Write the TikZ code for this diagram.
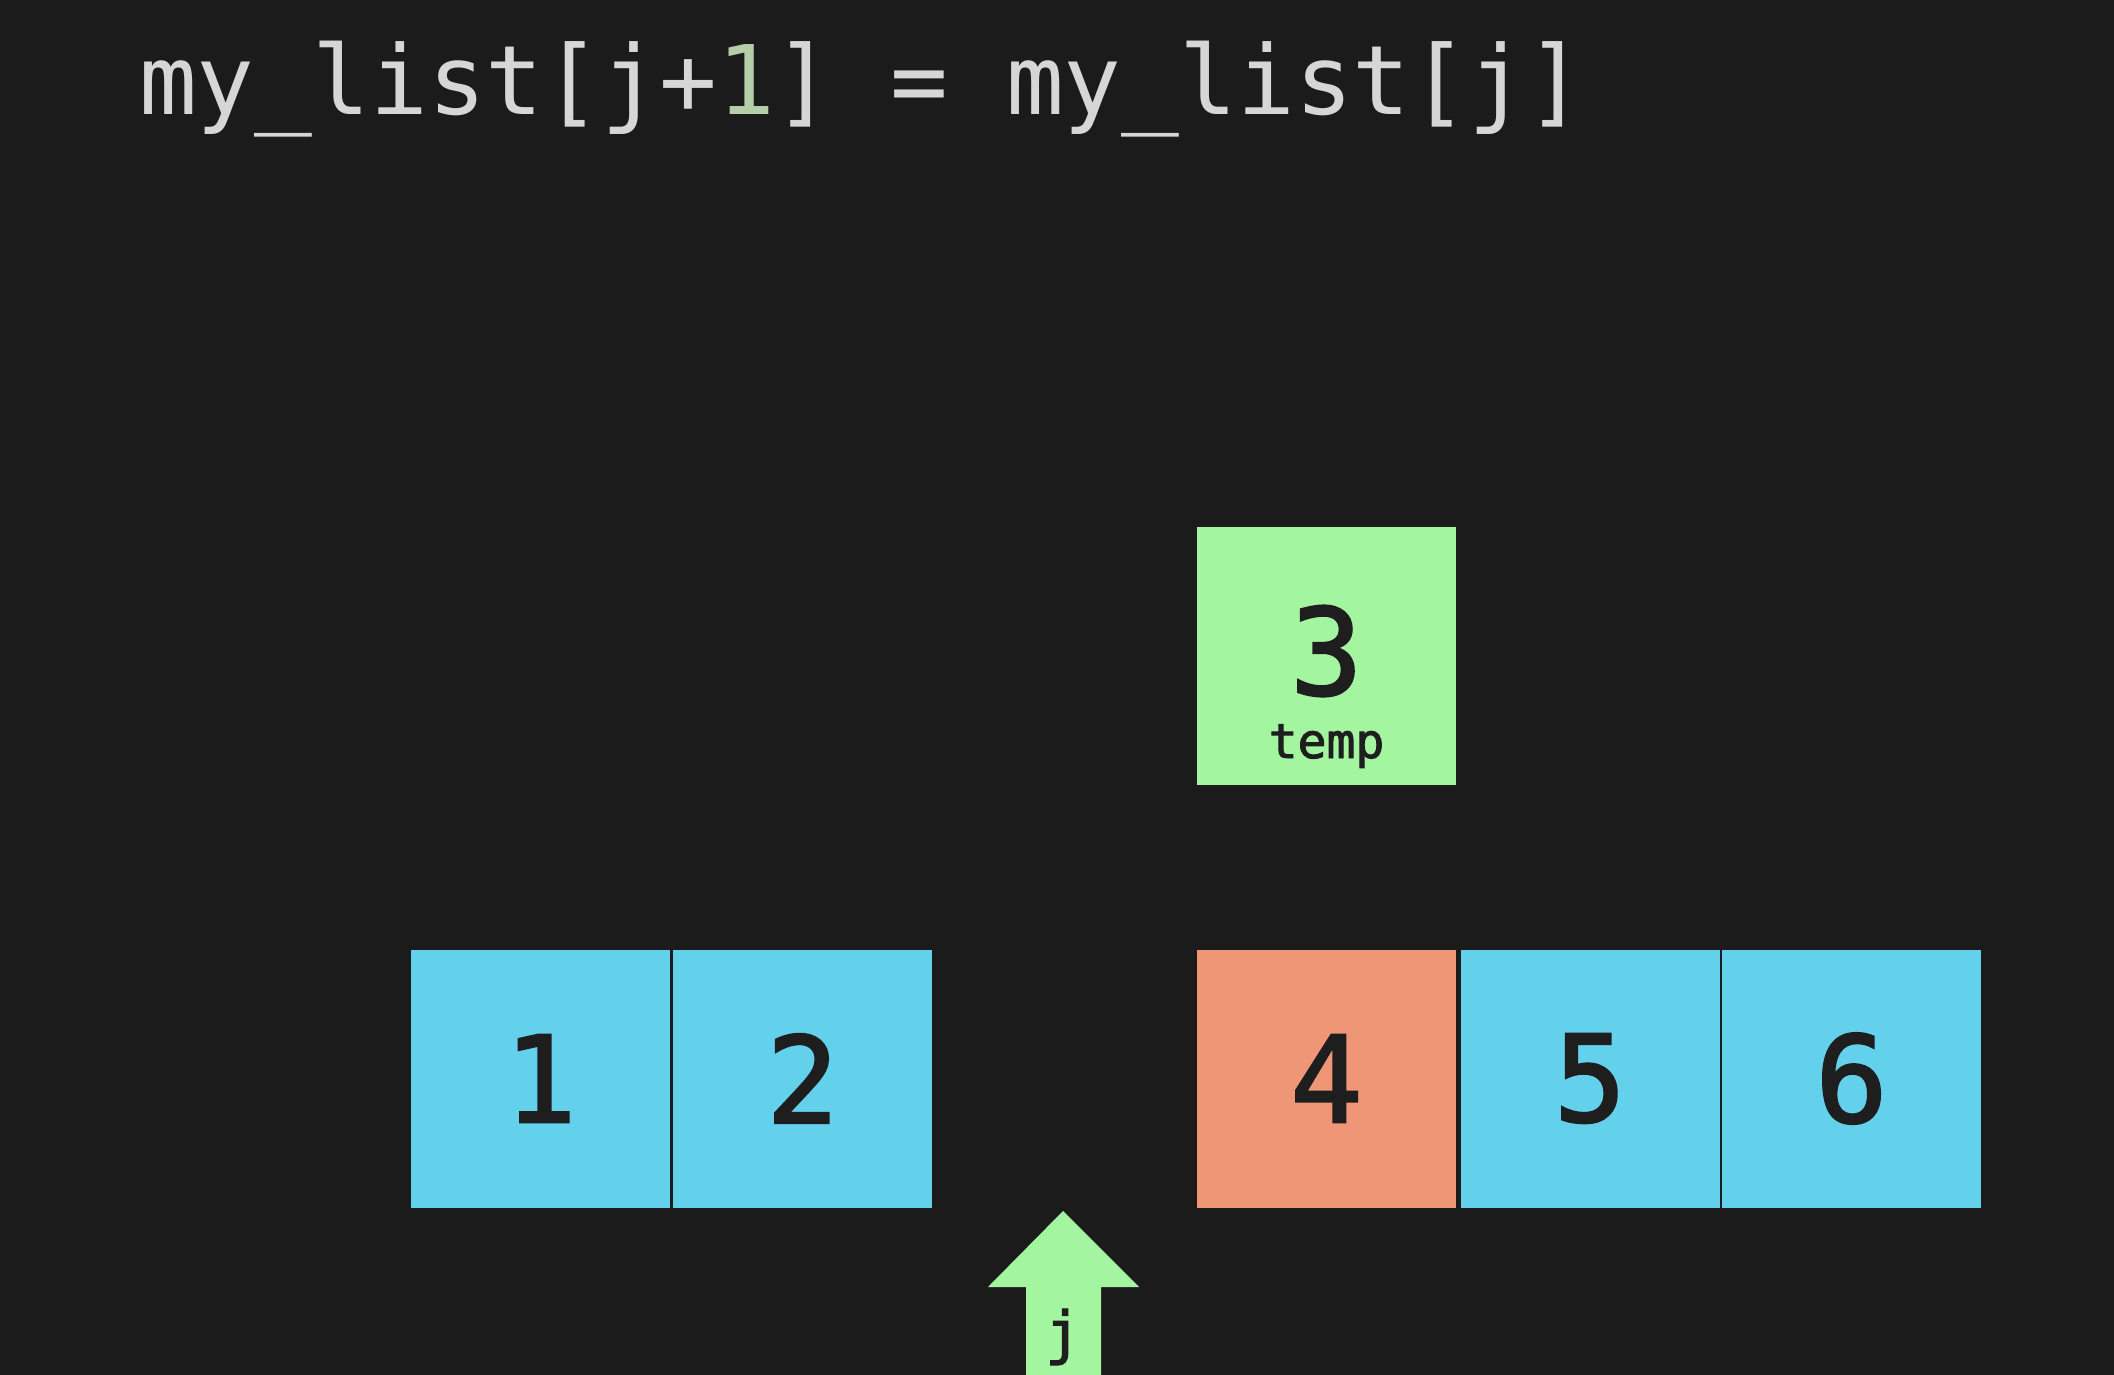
\documentclass[tikz,border=0pt]{standalone}
\usepackage{fontspec}
\setmonofont{DejaVu Sans Mono}
\newfontfamily\codefont{DejaVu Sans Mono}
\newfontfamily\cellfont[FakeBold=2]{DejaVu Sans Mono}
\definecolor{bg}{HTML}{1B1B1B}
\definecolor{codegray}{HTML}{D6D6D6}
\definecolor{codenum}{HTML}{B5CEA8}
\definecolor{cellblue}{HTML}{63D0EC}
\definecolor{cellorange}{HTML}{EE9676}
\definecolor{cellgreen}{HTML}{A3F5A0}
\definecolor{digit}{HTML}{1E1E1E}
\begin{document}
\begin{tikzpicture}[x=1pt,y=-1pt,
  cell/.style={minimum width=259pt, minimum height=258pt, inner sep=0pt,
    fill=cellblue, text=digit, font=\cellfont\fontsize{120}{120}\selectfont},
  digittext/.style={inner sep=0pt, text=digit, font=\cellfont\fontsize{120}{120}\selectfont},
  smalltext/.style={inner sep=0pt, text=digit, font=\cellfont\fontsize{48}{48}\selectfont}]
\fill[bg] (0,0) rectangle (2114,1375);
\useasboundingbox (0,0) rectangle (2114,1375);
\node[anchor=base west, inner sep=0pt, text=codegray,
  font=\codefont\fontsize{96}{96}\selectfont] (code) at (139,115)
  {my\_list[j+\textcolor{codenum}{1}] = my\_list[j]};
\node[cell] (c1) at (540.5,1078.5) {1};
\node[cell] (c2) at (802.5,1078.5) {2};
\node[cell, fill=cellorange] (c4) at (1326.5,1078.5) {4};
\node[cell] (c5) at (1590,1078.5) {5};
\node[cell] (c6) at (1851.5,1078.5) {6};
\node[cell, fill=cellgreen] (temp) at (1326.5,656) {};
\node[digittext] (tempval) at (1326.5,651) {3};
\node[smalltext, anchor=base] (templabel) at (1326.5,758) {temp};
\fill[cellgreen] (1063,1211) -- (1139,1287) -- (1101,1287) -- (1101,1375)
  -- (1026,1375) -- (1026,1287) -- (988,1287) -- cycle;
\node[smalltext, anchor=base, font=\cellfont\fontsize{58}{58}\selectfont] (jlabel) at (1063,1353) {j};
\end{tikzpicture}
\end{document}
